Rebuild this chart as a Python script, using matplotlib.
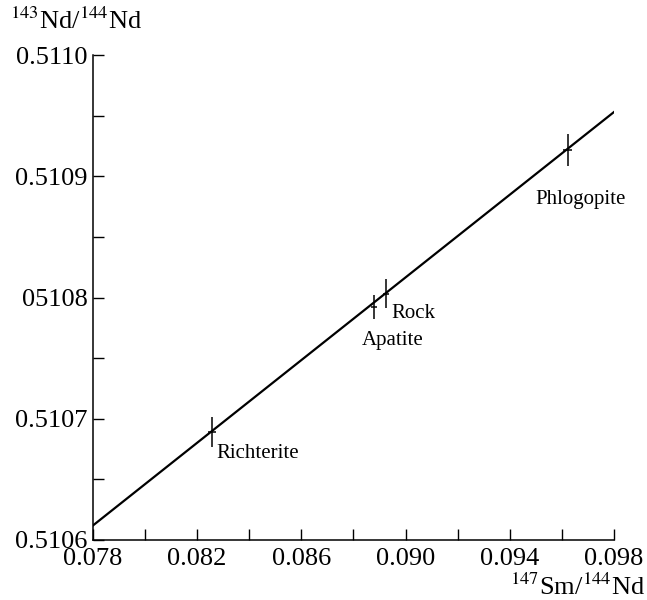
import matplotlib
matplotlib.use("Agg")
import matplotlib.pyplot as plt
import numpy as np

plt.rcParams['font.family'] = ['Liberation Serif', 'DejaVu Serif']
plt.rcParams['mathtext.fontset'] = 'stix'

# Data
minerals = ["Richterite", "Apatite", "Rock", "Phlogopite"]
sm_nd = [0.08256, 0.08879, 0.08925, 0.09622]
nd_nd = [0.510689, 0.510792, 0.510803, 0.510922]
sm_err = [0.00015, 0.00012, 0.00010, 0.00017]
nd_err = [0.0000124, 0.0000098, 0.0000120, 0.0000132]
isochron_x = [0.0780, 0.0980]
isochron_y = [0.510612, 0.510953]

xticks_major = [0.078, 0.082, 0.086, 0.090, 0.094, 0.098]
xtick_labels = ["0.078", "0.082", "0.086", "0.090", "0.094", "0.098"]
yticks_major = [0.5106, 0.5107, 0.5108, 0.5109, 0.5110]
ytick_labels = ["0.5106", "0.5107", "05108", "0.5109", "0.5110"]

fig = plt.figure(figsize=(6.47, 6.0), dpi=100)
ax = fig.add_axes([0.1437, 0.1, 0.8053, 0.8083])

ax.plot(isochron_x, isochron_y, color='black', lw=1.6)
ax.errorbar(sm_nd, nd_nd, xerr=sm_err, yerr=nd_err, fmt='none',
            ecolor='black', elinewidth=1.1, capsize=0)

# labels
offsets = {
    "Richterite": (5, -12, 'left', 'top'),
    "Apatite": (19, -24, 'center', 'top'),
    "Rock": (5, -10, 'left', 'top'),
    "Phlogopite": (13, -40, 'center', 'top'),
}
for name, x, y in zip(minerals, sm_nd, nd_nd):
    dx, dy, ha, va = offsets[name]
    ax.annotate(name, (x, y), xytext=(dx, dy), textcoords='offset pixels',
                ha=ha, va=va, fontsize=15)

ax.set_xlim(0.078, 0.098)
ax.set_ylim(0.5106, 0.5110)
ax.set_xticks(xticks_major)
ax.set_xticklabels(xtick_labels)
ax.set_xticks(np.arange(0.078, 0.0981, 0.002), minor=True)
ax.set_yticks(yticks_major)
ax.set_yticklabels(ytick_labels)
ax.set_yticks(np.arange(0.5106, 0.51101, 0.00005), minor=True)

for s in ['top', 'right']:
    ax.spines[s].set_visible(False)
for s in ['left', 'bottom']:
    ax.spines[s].set_linewidth(1.1)

ax.tick_params(which='both', direction='in', length=8, width=1.0, labelsize=19)
ax.tick_params(axis='x', pad=6)
ax.tick_params(axis='y', pad=4)

fig.text(0.015, 0.965, r'$^{143}$Nd/$^{144}$Nd', fontsize=19, ha='left', va='center')
fig.text(0.997, 0.022, r'$^{147}$Sm/$^{144}$Nd', fontsize=19, ha='right', va='center')

fig.savefig("out.png", dpi=100)
